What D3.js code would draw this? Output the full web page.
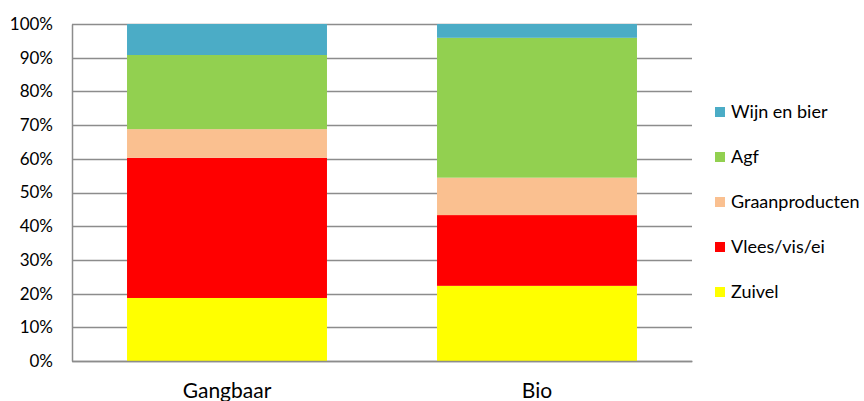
<!DOCTYPE html>
<html>
<head>
<meta charset="utf-8">
<script src="https://cdn.jsdelivr.net/npm/d3@7"></script>
<style>
  body { margin: 0; background: #fff; }
  text { font-family: Lato, "Open Sans", sans-serif; fill: #000; }
</style>
</head>
<body>
<div id="chart"></div>
<script>
// categorieen en reeksen (aandeel in %)
const categories = ["Gangbaar", "Bio"]
const seriesNames = ["Zuivel", "Vlees/vis/ei", "Graanproducten", "Agf", "Wijn en bier"]
const zuivel = [18.7, 22.3]
const vlees = [41.6, 21.0]
const graan = [8.5, 11.1]
const agf = [22.0, 41.5]
const wijn = [9.2, 4.1]
const yTicks = [0, 10, 20, 30, 40, 50, 60, 70, 80, 90, 100]
const colors = ["#FFFF00", "#FF0000", "#FAC090", "#92D050", "#4BACC6"]

const width = 864
const height = 401
const margin = { top: 24, right: 172, bottom: 40, left: 72 }
const innerW = width - margin.left - margin.right
const innerH = height - margin.top - margin.bottom

const rows = categories.map((c, i) => ({
  cat: c,
  "Zuivel": zuivel[i],
  "Vlees/vis/ei": vlees[i],
  "Graanproducten": graan[i],
  "Agf": agf[i],
  "Wijn en bier": wijn[i]
}))

const svg = d3.select("#chart").append("svg")
  .attr("width", width)
  .attr("height", height)

const g = svg.append("g")
  .attr("transform", `translate(${margin.left},${margin.top})`)

const x = d3.scaleBand()
  .domain(categories)
  .range([0, innerW])
  .paddingInner(0.355)
  .paddingOuter(0.1775)

const y = d3.scaleLinear()
  .domain([0, 100])
  .range([innerH, 0])

const color = d3.scaleOrdinal().domain(seriesNames).range(colors)

// rasterlijnen
g.append("g")
  .selectAll("line")
  .data(yTicks)
  .join("line")
    .attr("x1", 0)
    .attr("x2", innerW)
    .attr("y1", d => Math.round(y(d)) + 0.5)
    .attr("y2", d => Math.round(y(d)) + 0.5)
    .attr("stroke", "#8c8c8c")
    .attr("stroke-width", 1.5)

// y-as
const yAxis = g.append("g")
  .call(d3.axisLeft(y).tickValues(yTicks).tickFormat(d => d + "%").tickSize(0).tickPadding(19))
yAxis.select(".domain").attr("stroke", "#8c8c8c").attr("stroke-width", 1.5)
yAxis.selectAll("text").attr("font-size", "17px").style("font-family", "Lato, 'Open Sans', sans-serif")

// gestapelde balken
const stack = d3.stack().keys(seriesNames)(rows)

g.append("g")
  .selectAll("g")
  .data(stack)
  .join("g")
    .attr("fill", d => color(d.key))
  .selectAll("rect")
  .data(d => d)
  .join("rect")
    .attr("x", d => x(d.data.cat))
    .attr("width", x.bandwidth())
    .attr("y", d => y(d[1]))
    .attr("height", d => y(d[0]) - y(d[1]))

// x-as
const xAxis = g.append("g")
  .attr("transform", `translate(0,${innerH})`)
  .call(d3.axisBottom(x).tickSize(0).tickPadding(22))
xAxis.select(".domain").attr("stroke", "#8c8c8c").attr("stroke-width", 1.5)
xAxis.selectAll("text").attr("font-size", "21px").style("font-family", "Lato, 'Open Sans', sans-serif")

// legenda
const legend = svg.append("g")
  .attr("transform", "translate(715, 0)")

const legendItems = legend.selectAll("g")
  .data(seriesNames.slice().reverse())
  .join("g")
    .attr("transform", (d, i) => `translate(0, ${112 + i * 45})`)

legendItems.append("rect")
  .attr("x", 0)
  .attr("y", -5)
  .attr("width", 10)
  .attr("height", 10)
  .attr("fill", d => color(d))

legendItems.append("text")
  .attr("x", 16)
  .attr("dy", "0.35em")
  .attr("font-size", "18px")
  .text(d => d)
</script>
</body>
</html>
